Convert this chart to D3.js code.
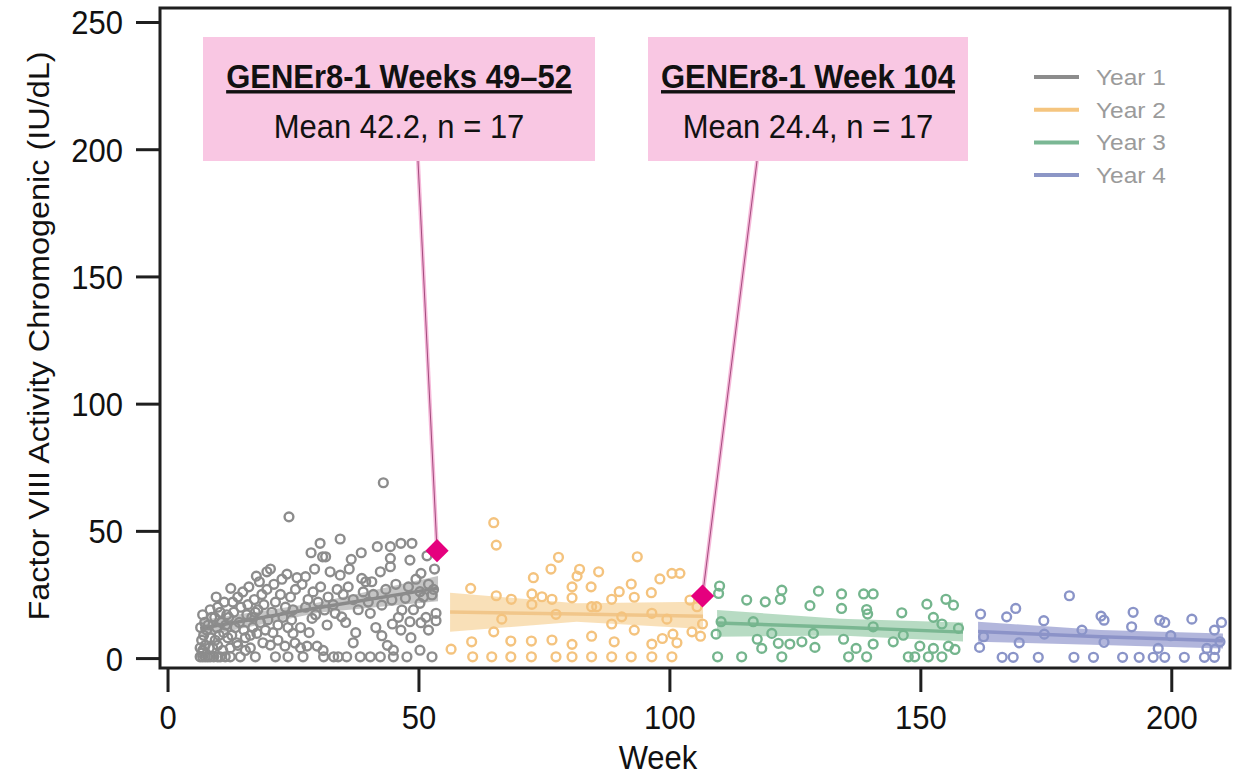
<!DOCTYPE html>
<html>
<head>
<meta charset="utf-8">
<script src="https://cdn.jsdelivr.net/npm/d3@7"></script>
<style>
  html, body { margin: 0; padding: 0; background: #ffffff; }
  svg { display: block; font-family: "Liberation Sans", Arial, Helvetica, sans-serif; }
</style>
</head>
<body>
<svg id="chart" width="1243" height="778"></svg>
<script>
// ---- Data: FVIII activity by week, one array of [week, IU/dL] per study year ----
const year1 = [
  [6.5,0.5],[7,0.5],[7.5,0.5],[8,0.5],[8.5,0.5],[6.5,4],[7,3],[7.5,5],[8.3,4],[6.8,7],[7.2,9],[7.8,11],[8.5,8],[6.6,12],[7.4,14],[8.1,13],[8.8,16],[7,17],[8.5,19],[6.9,2],
  [9.2,0.5],[10,0.5],[10.5,0.5],[11.5,0.5],[9,4],[10,5],[11,3],[9.5,7],[10.3,9],[11.2,10],[9.8,12],[10.7,14],[11.6,13],[9.4,16],[10.5,18],[11.8,17],[10,20],[11.3,22],[12,8],[9.7,24],
  [12.5,0.5],[14.5,0.5],[12.5,4],[14,5],[15.5,3],[12.8,9],[13.5,12],[14.3,14],[15.2,11],[12.2,16],[13.2,18],[14.6,20],[15.8,17],[13,22],[14,24],[15,26],[12.6,27.4],[16,21],[15.5,8],[13.8,6],
  [17.5,0.5],[16.5,4],[16.5,9],[17.8,9.7],[17,12],[18.5,14],[19.5,11],[16.8,16],[18,19],[19.2,21],[17.3,23],[18.8,25],[19.8,27],[17.7,32.2],[19.8,33.9],[16.2,28],[18.3,30],[19,6],[17.5,18],[20,15],
  [21.5,0.5],[24,0.5],[20.5,5.1],[23.4,4.7],[25.4,5.9],[20.5,35],[21,10],[22,13],[23,16],[24,12],[25,19],[21.5,22],[22.5,25],[23.5,20],[24.5,24],[25.5,27],[21.2,29],[22.8,31],[24.2,55.5],[25.8,31.6],[23.8,33],[20.8,18],[25,9.7],[22,7],[24.7,15],
  [27,0.5],[31.1,0.5],[26.5,4],[27.8,4.7],[29.8,4.7],[31,3],[28.8,15.6],[31.3,18.9],[26.5,12],[27.5,20],[28,23],[29,26],[30,22],[30.5,28],[26.8,29],[27.5,32],[28.6,41.4],[30.4,45.1],[30.9,39.8],[31.5,39.8],[29.5,17],[32,24],[28.2,10],[31.8,13],[32.4,33.9],[29.3,35],
  [33.1,0.5],[34,0.5],[35.7,0.5],[38.4,0.5],[33.4,17.6],[34.7,16.2],[34.4,46.8],[34.4,32.6],[36.6,38.8],[38.6,41.4],[38.7,31.3],[40.4,17.6],[33,21],[35,25],[36,28],[37,23],[38,19],[39,26],[35.5,14],[37.5,10],[39.5,30],[36.2,35],[33.8,27],[40,22],[37,6],
  [40.4,0.5],[42.4,0.5],[45,0.5],[45,3.1],[42.7,8.8],[44.8,13.4],[46.5,11],[46.7,18.9],[42.7,20.8],[44.7,22.8],[47.4,23.5],[40.7,30],[42.4,33.9],[44.4,35.9],[41.8,43.8],[44.4,43.8],[46.5,45.1],[43,68.9],[44.4,39.2],[41,25],[43.5,27],[45.5,29],[46,16],[41.5,12],[43.8,5],
  [47.7,0.5],[52.7,0.5],[50.3,3.1],[48.3,14.3],[50.5,13.9],[50.3,21.5],[50.3,26.1],[52.7,24.8],[50.5,33.3],[48.7,45.1],[51.7,40.2],[48.3,38.5],[53.5,17.6],[53.5,14.7],[48,28],[49.5,31],[51,24],[52,29],[53,27],[49,19],[51.5,16],[53.2,35],[48.5,8],[52,11]
];

const year2 = [
  [65.0,53.2],[65.5,44.4],[77.9,39.6],[93.6,39.8],[76.4,35.0],[82.1,34.9],[81.6,32.2],[85.9,33.9],[72.9,31.6],[98.1,31.1],[100.5,33.3],[102.1,33.3],
  [60.4,27.4],[80.6,28.0],[84.4,28.0],[92.4,29.1],[90.0,26.1],[96.4,25.7],[65.5,24.5],[72.6,25.2],[74.6,24.1],[76.6,23.1],[80.6,23.7],[88.5,23.1],
  [93.0,23.9],[68.5,23.1],[72.6,21.1],[84.5,20.2],[85.5,20.2],[104.1,22.8],[105.5,20.2],[96.5,17.6],[77.4,17.2],[90.5,16.2],[66.6,15.3],[99.5,15.3],
  [88.5,13.4],[106.6,13.4],[65.0,10.3],[93.0,11.0],[104.5,10.3],[106.2,8.6],[100.7,9.4],[98.6,7.7],[101.5,6.0],[84.5,8.6],[60.6,6.4],[68.4,6.7],
  [72.5,6.7],[76.6,7.1],[80.6,5.4],[89.0,6.4],[96.5,5.5],[56.5,3.5],
  [60.8,0.5],[64.6,0.5],[68.4,0.5],[72.5,0.5],[77.4,0.5],[80.6,0.5],[84.5,0.5],[88.5,0.5],[92.4,0.5],[96.5,0.5],[100.5,0.5]
];

const year3 = [
  [110.0,28.3],[109.8,25.4],[115.4,22.8],[119.1,22.1],[122.1,23.1],[122.4,26.7],[129.7,26.3],[128.0,20.6],[134.3,25.2],[134.3,19.5],[138.7,25.2],[140.6,25.2],
  [139.3,19.1],[139.5,17.3],[146.3,17.8],[151.3,21.2],[155.1,23.1],[156.6,20.8],[152.6,16.0],[154.3,13.4],[157.6,11.7],[110.3,14.3],[116.7,14.3],[109.3,9.4],
  [120.4,9.7],[128.7,9.7],[140.6,12.3],[146.6,9.0],[117.5,7.4],[118.4,3.8],[121.7,5.8],[124.0,5.5],[126.4,6.4],[129.0,4.2],[134.7,7.4],[137.2,3.8],
  [140.6,5.5],[144.6,6.4],[149.9,4.7],[152.6,3.8],[155.6,4.7],[156.9,3.4],
  [109.6,0.5],[114.4,0.5],[122.4,0.5],[135.7,0.5],[139.3,0.5],[147.6,0.5],[148.9,0.5],[151.6,0.5],[154.3,0.5]
];

const year4 = [
  [179.7,24.5],[162.0,17.3],[167.2,16.2],[169.0,19.5],[174.6,14.7],[186.0,16.5],[186.6,14.9],[192.4,18.0],[192.1,12.3],[197.7,14.9],[198.7,14.0],[204.1,15.3],
  [210.0,14.0],[208.6,11.0],[161.8,4.2],[162.6,8.4],[169.7,6.0],[174.7,9.4],[182.2,11.0],[186.6,6.2],[199.9,8.8],[197.4,3.8],[207.1,3.8],[208.7,3.4],[209.7,6.4],
  [166.3,0.3],[168.5,0.3],[173.5,0.3],[180.6,0.3],[184.5,0.3],[190.3,0.3],[193.6,0.3],[196.4,0.3],[198.7,0.3],[202.6,0.3],[206.6,0.3],[208.6,0.3]
];

// Linear trend per year: weeks at start / middle / end, fitted value, lower and upper bound
const fitWeeks = [[6.5, 30, 53.9], [56.3, 81.5, 106.7], [109.5, 134, 158.5], [161.5, 186, 210.3]];
const fitMean  = [[11.6, 19.8, 27.5], [18.1, 17.3, 16.4], [13.8, 12.1, 10.2], [10.4, 8.4, 6.8]];
const fitLower = [[8.3, 17.8, 22.3], [10.3, 14.3, 11.4], [8.4, 8.9, 6.5], [6.4, 5.1, 3.8]];
const fitUpper = [[14.9, 21.8, 32.3], [25.7, 21.5, 22.1], [18.9, 15.5, 14.0], [14.3, 11.0, 9.7]];

const seriesNames = ["Year 1", "Year 2", "Year 3", "Year 4"];

// GENEr8-1 reference means
const refTitles = ["GENEr8-1 Weeks 49\u201352", "GENEr8-1 Week 104"];
const refMeans  = [42.2, 24.4];
const refN      = [17, 17];
const refWeeks  = [53.7, 106.6];

const xTicks = [0, 50, 100, 150, 200];
const yTicks = [0, 50, 100, 150, 200, 250];

// ---- Styling ----
const pointColors = ["#8c8c8c", "#f4c37e", "#74b58d", "#8a94c8"];
const bandColors  = ["#a6a6a6", "#f8d8a6", "#a5d2b4", "#a4a9d6"];
const bandOpacity = [0.65, 0.8, 0.8, 0.85];
const lineColors  = ["#8a8a8a", "#f1c68a", "#7ab792", "#8c93c8"];
const legendColors = ["#8c8c8c", "#f5c57f", "#7ab794", "#8c96c6"];

const svg = d3.select("#chart");
const frame = { left: 160, right: 1230, top: 8, bottom: 668 };

const x = d3.scaleLinear().domain([-1.5, 211.7]).range([frame.left, frame.right]);
const y = d3.scaleLinear().domain([-3.9, 255.5]).range([frame.bottom, frame.top]);

const plot = svg.append("g");

// Confidence bands and trend lines
const bandArea = d3.area().x(d => x(d.w)).y0(d => y(d.lo)).y1(d => y(d.hi));
const trendLine = d3.line().x(d => x(d.w)).y(d => y(d.m));

fitWeeks.forEach((weeks, i) => {
  const rows = weeks.map((w, k) => ({ w, m: fitMean[i][k], lo: fitLower[i][k], hi: fitUpper[i][k] }));
  plot.append("path").attr("d", bandArea(rows))
    .attr("fill", bandColors[i]).attr("fill-opacity", bandOpacity[i]);
  plot.append("path").attr("d", trendLine(rows))
    .attr("fill", "none").attr("stroke", lineColors[i]).attr("stroke-width", 3.5);
});

// Individual measurements
[year1, year2, year3, year4].forEach((pts, i) => {
  plot.append("g").selectAll("circle").data(pts).join("circle")
    .attr("cx", d => x(d[0])).attr("cy", d => y(d[1])).attr("r", 4.4)
    .attr("fill", "none").attr("stroke", pointColors[i]).attr("stroke-width", 2.4);
});

// Reference annotation boxes
const boxes = [
  { x0: 203, x1: 595, anchorX: 418 },
  { x0: 648, x1: 968, anchorX: 757 }
];
const boxTop = 37, boxBottom = 161;

// Leader lines from the boxes to the reference means
boxes.forEach((b, i) => {
  const px = x(refWeeks[i]), py = y(refMeans[i]);
  plot.append("line").attr("x1", b.anchorX).attr("y1", boxBottom).attr("x2", px).attr("y2", py)
    .attr("stroke", "#f6b9da").attr("stroke-width", 4);
  plot.append("line").attr("x1", b.anchorX).attr("y1", boxBottom).attr("x2", px).attr("y2", py)
    .attr("stroke", "#a24a7c").attr("stroke-width", 1);
});

// Reference mean markers (diamonds)
refWeeks.forEach((w, i) => {
  plot.append("path")
    .attr("d", d3.symbol().type(d3.symbolSquare).size(270)())
    .attr("transform", `translate(${x(w)},${y(refMeans[i])}) rotate(45)`)
    .attr("fill", "#e5007e");
});

function stretchedText(g, tx, ty, str, opts) {
  const t = g.append("text")
    .attr("transform", `translate(${tx},${ty}) scale(${opts.sx || 1},${opts.sy || 1})`)
    .attr("text-anchor", opts.anchor || "start")
    .attr("font-size", opts.size)
    .attr("fill", opts.fill || "#111")
    .text(str);
  if (opts.weight) t.attr("font-weight", opts.weight);
  if (opts.decoration) t.attr("text-decoration", opts.decoration);
  return t;
}

boxes.forEach((b, i) => {
  plot.append("rect").attr("x", b.x0).attr("y", boxTop)
    .attr("width", b.x1 - b.x0).attr("height", boxBottom - boxTop)
    .attr("fill", "#f9c7e3");
  const cx = (b.x0 + b.x1) / 2;
  stretchedText(plot, cx, 88, refTitles[i], { size: 31, sy: 1.1, anchor: "middle", weight: "bold", decoration: "underline" });
  stretchedText(plot, cx, 138, `Mean ${refMeans[i]}, n = ${refN[i]}`, { size: 31, sy: 1.1, anchor: "middle" });
});

// Legend
const legend = svg.append("g");
seriesNames.forEach((name, i) => {
  const ly = 77 + i * 32.7;
  legend.append("line").attr("x1", 1034).attr("x2", 1079).attr("y1", ly).attr("y2", ly)
    .attr("stroke", legendColors[i]).attr("stroke-width", 4);
  stretchedText(legend, 1096, ly + 8, name, { size: 24.5, sy: 0.92, fill: "#9b9b9b" });
});

// Frame
svg.append("rect")
  .attr("x", frame.left).attr("y", frame.top)
  .attr("width", frame.right - frame.left).attr("height", frame.bottom - frame.top)
  .attr("fill", "none").attr("stroke", "#1f1f1f").attr("stroke-width", 3);

// Axes
const xAxis = svg.append("g").attr("transform", `translate(0,${frame.bottom})`)
  .call(d3.axisBottom(x).tickValues(xTicks).tickSize(24).tickSizeOuter(0));
const yAxis = svg.append("g").attr("transform", `translate(${frame.left},0)`)
  .call(d3.axisLeft(y).tickValues(yTicks).tickSize(24).tickSizeOuter(0));

[xAxis, yAxis].forEach(ax => {
  ax.select(".domain").remove();
  ax.selectAll(".tick line").attr("stroke", "#1f1f1f").attr("stroke-width", 3);
  ax.selectAll(".tick text")
    .attr("font-family", "'Liberation Sans', Arial, sans-serif")
    .attr("font-size", 31).attr("fill", "#111")
    .attr("x", 0).attr("y", 0).attr("dy", null);
});
xAxis.selectAll(".tick text").attr("transform", "translate(0,61) scale(1,1.1)");
yAxis.selectAll(".tick text").attr("transform", "translate(-37,12) scale(1,1.1)");

// Axis titles
stretchedText(svg, 658, 769, "Week", { size: 31, sy: 1.08, anchor: "middle" });
svg.append("text")
  .attr("transform", "translate(49,336) rotate(-90) scale(1.08,1)")
  .attr("text-anchor", "middle").attr("font-size", 30).attr("fill", "#111")
  .text("Factor VIII Activity Chromogenic (IU/dL)");
</script>
</body>
</html>
